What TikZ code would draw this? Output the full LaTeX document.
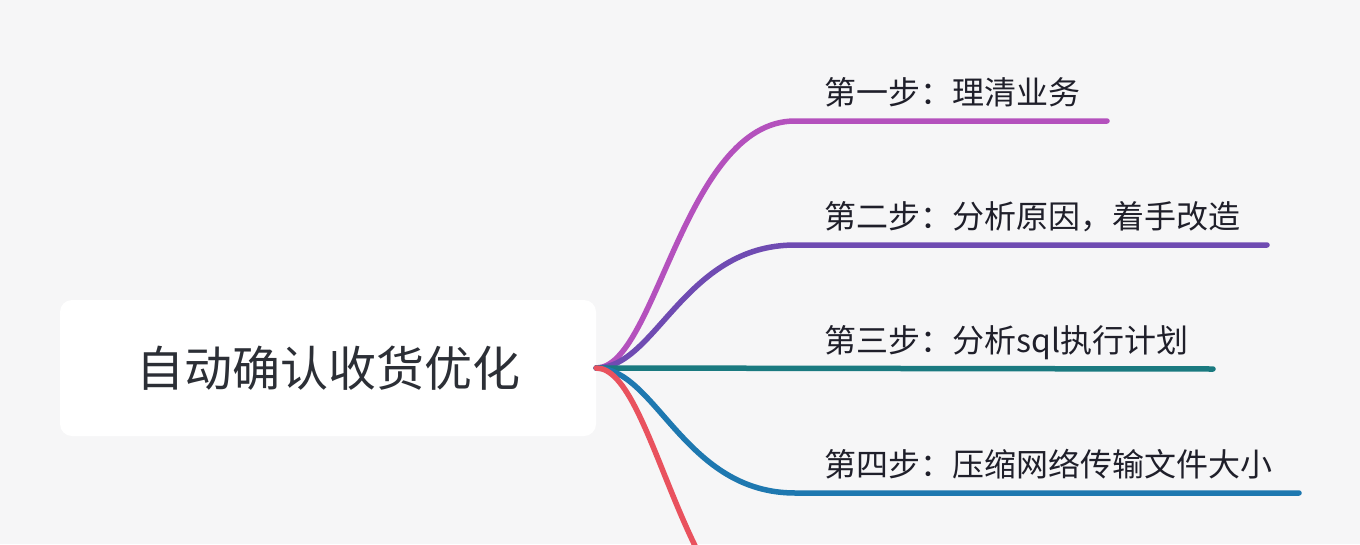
\documentclass[tikz,border=0pt]{standalone}
\usepackage{fontspec}
\setmainfont{Noto Sans CJK SC}
\definecolor{bg}{HTML}{F6F6F7}
\definecolor{txt}{HTML}{1F1F2A}
\definecolor{ttl}{HTML}{2C2F36}
\definecolor{cA}{HTML}{B451BD}
\definecolor{cB}{HTML}{6F4BB2}
\definecolor{cC}{HTML}{1A7A80}
\definecolor{cD}{HTML}{1E78B0}
\definecolor{cE}{HTML}{E9525E}
\begin{document}
\begin{tikzpicture}[x=1pt,y=-1pt,
  branch/.style={line width=5.5pt,line cap=round},
  lbl/.style={anchor=base west,inner sep=0pt,text=txt,font=\fontsize{32}{38}\selectfont}]
\useasboundingbox (0,0) rectangle (1360,544);
\fill[bg] (0,0) rectangle (1360,544);
\clip (0,0) rectangle (1360,544);
\node[fill=white,rounded corners=12pt,minimum width=536pt,minimum height=136pt,inner sep=0pt,text=ttl,font=\fontsize{48}{56}\selectfont] (root) at (328,368) {自动确认收货优化};
\coordinate (e1) at (1107,121);
\coordinate (e2) at (1267,245);
\coordinate (e3) at (1213,369);
\coordinate (e4) at (1299,493);
\coordinate (e5) at (1100,640);
\draw[branch,cA] (root.east) .. controls (656,368) and (684,121) .. (795,121) -- (e1);
\draw[branch,cB] (root.east) .. controls (656,368) and (684,245) .. (795,245) -- (e2);
\draw[branch,cC] (root.east) -- (e3);
\draw[branch,cD] (root.east) .. controls (656,368) and (684,493) .. (795,493) -- (e4);
\draw[branch,cE] (root.east) .. controls (656,368) and (684,640) .. (795,640) -- (e5);
\node[lbl] (l1) at (824,104) {第一步：理清业务};
\node[lbl] (l2) at (824,228) {第二步：分析原因，着手改造};
\node[lbl] (l3) at (824,352) {第三步：分析sql执行计划};
\node[lbl] (l4) at (824,476) {第四步：压缩网络传输文件大小};
\end{tikzpicture}
\end{document}
